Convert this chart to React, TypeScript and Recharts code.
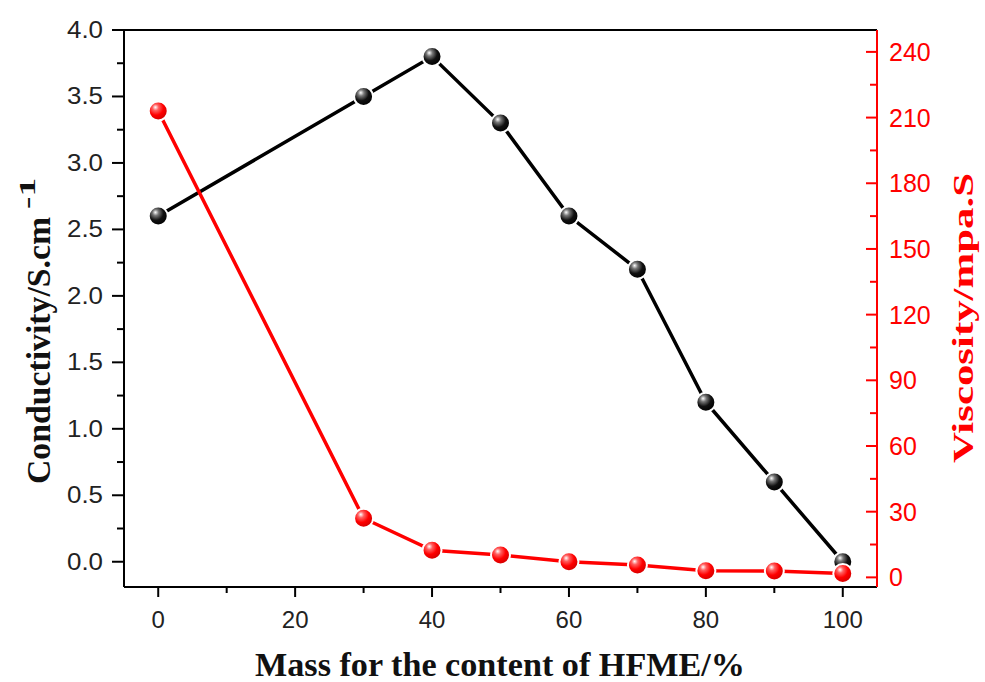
import { LineChart, Line, XAxis, YAxis, ReferenceLine } from 'recharts'

const mass = [0, 30, 40, 50, 60, 70, 80, 90, 100]
const conductivity = [2.6, 3.5, 3.8, 3.3, 2.6, 2.2, 1.2, 0.6, 0.0]
const viscosity = [213, 27, 12.4, 10.2, 7.1, 5.6, 3.0, 2.9, 1.8]

const xTicks = [0, 10, 20, 30, 40, 50, 60, 70, 80, 90, 100]
const leftTicks = [0, 0.25, 0.5, 0.75, 1, 1.25, 1.5, 1.75, 2, 2.25, 2.5, 2.75, 3, 3.25, 3.5, 3.75, 4]
const rightTicks = [0, 15, 30, 45, 60, 75, 90, 105, 120, 135, 150, 165, 180, 195, 210, 225, 240]

const data = mass.map((m, i) => ({ mass: m, cond: conductivity[i], visc: viscosity[i] }))

const RED = '#ff0000'
const SANS = "'Liberation Sans', Arial, sans-serif"
const SERIF = "'Liberation Serif', 'Times New Roman', serif"

function BottomTick(props: any) {
  const { x, y, payload } = props
  const major = payload.value % 20 === 0
  return (
    <g>
      <line x1={x} y1={y} x2={x} y2={y + (major ? 10 : 6)} stroke="#000" strokeWidth={2} />
      {major && (
        <text x={x} y={y + 41} textAnchor="middle" fontFamily={SANS} fontSize={24} fill="#222">
          {payload.value}
        </text>
      )}
    </g>
  )
}

function LeftTick(props: any) {
  const { x, y, payload } = props
  const v = payload.value
  const major = Math.abs(v * 2 - Math.round(v * 2)) < 1e-6
  return (
    <g>
      <line x1={x - (major ? 12 : 7)} y1={y} x2={x} y2={y} stroke="#000" strokeWidth={2} />
      {major && (
        <text
          x={x - 21}
          y={y + 8}
          textAnchor="end"
          fontFamily={SANS}
          fontSize={23}
          fill="#222"
          textLength={36}
          lengthAdjust="spacingAndGlyphs"
        >
          {v.toFixed(1)}
        </text>
      )}
    </g>
  )
}

function RightTick(props: any) {
  const { x, y, payload } = props
  const major = payload.value % 30 === 0
  return (
    <g>
      <line x1={x - (major ? 11 : 7)} y1={y} x2={x} y2={y} stroke={RED} strokeWidth={2} />
      {major && (
        <text x={x + 12} y={y + 9} textAnchor="start" fontFamily={SANS} fontSize={25} fill={RED}>
          {payload.value}
        </text>
      )}
    </g>
  )
}

const ballDot = (grad: string) => (p: any) => (
  <circle
    key={`${grad}-${p.index}`}
    cx={p.cx}
    cy={p.cy}
    r={9.5}
    fill={`url(#${grad})`}
    stroke="#fff"
    strokeWidth={2}
  />
)

export default function App() {
  return (
    <div style={{ position: 'absolute', left: 0, top: 0, width: 985, height: 682, background: '#fff' }}>
      <LineChart width={985} height={682} data={data} margin={{ top: 30, right: 30, bottom: 35, left: 30 }}>
        <defs>
          <radialGradient id="ballBlack" cx="0.4" cy="0.35" r="0.65" fx="0.35" fy="0.3">
            <stop offset="0%" stopColor="#ffffff" />
            <stop offset="25%" stopColor="#777" />
            <stop offset="60%" stopColor="#111" />
            <stop offset="100%" stopColor="#000" />
          </radialGradient>
          <radialGradient id="ballRed" cx="0.4" cy="0.35" r="0.65" fx="0.35" fy="0.3">
            <stop offset="0%" stopColor="#ffffff" />
            <stop offset="25%" stopColor="#ff6060" />
            <stop offset="60%" stopColor="#ff0000" />
            <stop offset="100%" stopColor="#d00000" />
          </radialGradient>
        </defs>
        <XAxis
          dataKey="mass"
          type="number"
          domain={[-5, 105]}
          ticks={xTicks}
          interval={0}
          height={60}
          axisLine={{ stroke: '#000', strokeWidth: 2 }}
          tickLine={false}
          tickSize={0}
          tickMargin={0}
          tick={<BottomTick />}
          allowDataOverflow
        />
        <YAxis
          yAxisId="left"
          type="number"
          domain={[-0.19, 4]}
          ticks={leftTicks}
          interval={0}
          width={94}
          axisLine={{ stroke: '#000', strokeWidth: 2 }}
          tickLine={false}
          tickSize={0}
          tickMargin={0}
          tick={<LeftTick />}
          allowDataOverflow
        />
        <YAxis
          yAxisId="right"
          orientation="right"
          type="number"
          domain={[-4.4, 250]}
          ticks={rightTicks}
          interval={0}
          width={78}
          axisLine={{ stroke: RED, strokeWidth: 2 }}
          tickLine={false}
          tickSize={0}
          tickMargin={0}
          tick={<RightTick />}
          allowDataOverflow
        />
        <ReferenceLine yAxisId="left" y={4} stroke="#000" strokeWidth={2} />
        <Line
          yAxisId="left"
          dataKey="cond"
          stroke="#000"
          strokeWidth={3.5}
          type="linear"
          dot={ballDot('ballBlack')}
          isAnimationActive={false}
        />
        <Line
          yAxisId="right"
          dataKey="visc"
          stroke={RED}
          strokeWidth={3.5}
          type="linear"
          dot={ballDot('ballRed')}
          isAnimationActive={false}
        />
      </LineChart>
      <svg
        width={985}
        height={682}
        style={{ position: 'absolute', left: 0, top: 0, pointerEvents: 'none' }}
      >
        <text
          x={500}
          y={676}
          textAnchor="middle"
          fontFamily={SERIF}
          fontWeight="bold"
          fontSize={33}
          fill="#111"
          textLength={490}
          lengthAdjust="spacingAndGlyphs"
        >
          Mass for the content of HFME/%
        </text>
        <text
          transform="translate(50,484) rotate(-90)"
          fontFamily={SERIF}
          fontWeight="bold"
          fontSize={33}
          fill="#111"
          textLength={267}
          lengthAdjust="spacingAndGlyphs"
        >
          Conductivity/S.cm
        </text>
        <text
          transform="translate(35,209) rotate(-90)"
          fontFamily={SERIF}
          fontWeight="bold"
          fontSize={24}
          fill="#111"
          textLength={31}
          lengthAdjust="spacingAndGlyphs"
        >
          -1
        </text>
        <text
          transform="translate(973,463) rotate(-90)"
          fontFamily={SERIF}
          fontWeight="bold"
          fontSize={30}
          fill={RED}
          textLength={290}
          lengthAdjust="spacingAndGlyphs"
        >
          Viscosity/mpa.S
        </text>
      </svg>
    </div>
  )
}
